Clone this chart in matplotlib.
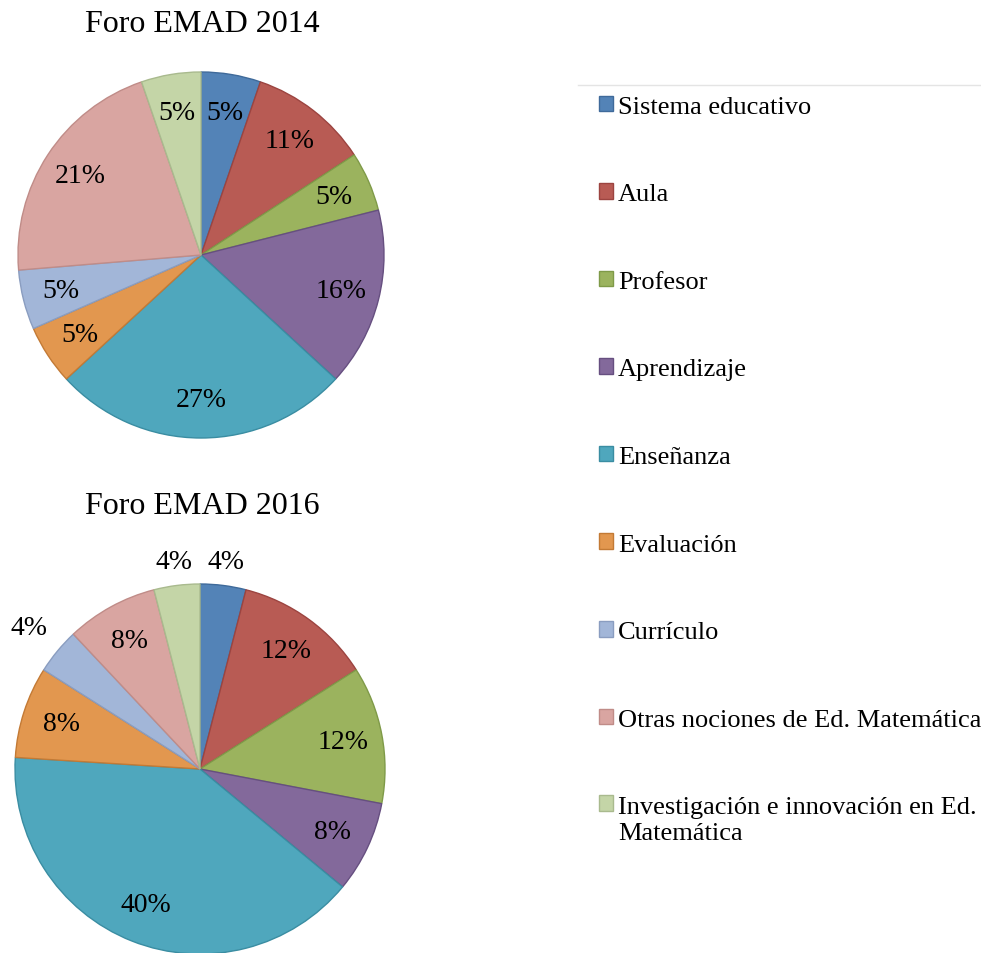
import numpy as np
import matplotlib
matplotlib.use("Agg")
import matplotlib.pyplot as plt
from matplotlib.lines import Line2D

plt.rcParams['font.family'] = ['Liberation Serif', 'DejaVu Serif']

categories = ["Sistema educativo", "Aula", "Profesor", "Aprendizaje", "Enseñanza",
              "Evaluación", "Currículo", "Otras nociones de Ed. Matemática",
              "Investigación e innovación en Ed.\nMatemática"]
# number of contributions per topic (slice sizes)
foro_2014 = [1, 2, 1, 3, 5, 1, 1, 4, 1]
foro_2016 = [1, 3, 3, 2, 10, 2, 1, 2, 1]
# percentages as printed on the charts
pct_2014 = [5, 11, 5, 16, 27, 5, 5, 21, 5]
pct_2016 = [4, 12, 12, 8, 40, 8, 4, 8, 4]

colors = ["#5383B7", "#B85B54", "#9BB35E", "#83699B", "#4FA7BD",
          "#E2974F", "#A2B6D8", "#D9A5A1", "#C4D5A7"]
edges = ["#3F6A9A", "#9C4440", "#7F9A48", "#664F80", "#3A8DA2",
         "#C37A35", "#8A9DC0", "#C08C88", "#A9BA8E"]

W, H = 981, 954
fig = plt.figure(figsize=(W / 100, H / 100), dpi=100)


def draw_pie(cx, cy, r, values, pcts, outside=()):
    ax = fig.add_axes([(cx - r) / W, (H - cy - r) / H, 2 * r / W, 2 * r / H])
    wedges, texts, autotexts = ax.pie(
        values, colors=colors, startangle=90, counterclock=False,
        autopct="", pctdistance=0.79,
        wedgeprops=dict(linewidth=1.0), textprops=dict(fontsize=20))
    for w, ec in zip(wedges, edges):
        w.set_edgecolor(ec)
    for t, p in zip(autotexts, pcts):
        t.set_text("%d%%" % p)
    # small slices get their labels outside the pie
    for i in outside:
        w = wedges[i]
        ang = np.deg2rad((w.theta1 + w.theta2) / 2)
        d = outside[i]
        autotexts[i].set_position((d * np.cos(ang), d * np.sin(ang)))
    ax.set_xlim(-1, 1)
    ax.set_ylim(-1, 1)
    ax.set_aspect("equal")
    ax.axis("off")
    return wedges


wedges = draw_pie(201, 256, 183, foro_2014, pct_2014)
draw_pie(200, 770, 185, foro_2016, pct_2016, outside={0: 1.13, 6: 1.2, 8: 1.13})

fig.text(202 / W, 1 - 24 / H, "Foro EMAD 2014", fontsize=23, ha="center", va="center")
fig.text(202 / W, 1 - 506 / H, "Foro EMAD 2016", fontsize=23, ha="center", va="center")

leg = fig.legend(wedges, categories, loc="upper left", bbox_to_anchor=(588 / W, 1 - 86 / H),
                 frameon=False, fontsize=19, handlelength=0.53, handleheight=0.53,
                 handletextpad=0.2, labelspacing=2.48, borderaxespad=0)
# put the square of the two-line entry next to its first line
last = leg.legend_handles[-1]
last.set_y(last.get_y() + 11.5)

fig.add_artist(Line2D([578 / W, 1], [1 - 86 / H, 1 - 86 / H], color="#E4E4E4", lw=1))

fig.savefig("out.png", dpi=100, facecolor="white")
